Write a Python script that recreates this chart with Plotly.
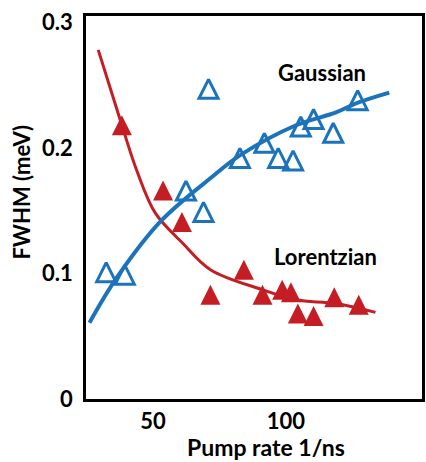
import plotly.graph_objects as go

# Measured data points (pump rate 1/ns, FWHM meV)
gauss_x = [32.4, 39.4, 62.4, 69.0, 70.9, 82.7, 91.9, 97.1, 102.7, 105.6, 110.4, 117.8, 127.0]
gauss_y = [0.101, 0.099, 0.166, 0.149, 0.247, 0.192, 0.204, 0.192, 0.190, 0.217, 0.223, 0.212, 0.238]

lor_x = [38.3, 53.8, 60.9, 71.6, 84.2, 91.2, 98.6, 101.9, 104.5, 110.4, 118.2, 127.4]
lor_y = [0.218, 0.166, 0.141, 0.083, 0.103, 0.083, 0.087, 0.085, 0.068, 0.066, 0.081, 0.075]

# Fit curves
gfit_x = [26.1, 36.5, 53.1, 72.3, 82.7, 103.8, 118.6, 127.1, 138.9]
gfit_y = [0.0607, 0.097, 0.142, 0.177, 0.194, 0.218, 0.228, 0.236, 0.244]

lfit_x = [29.4, 38.3, 43.9, 50.9, 61.2, 71.6, 91.2, 103.8, 118.6, 133.7]
lfit_y = [0.278, 0.218, 0.182, 0.148, 0.124, 0.103, 0.087, 0.079, 0.076, 0.069]

x_ticks = [50, 100]
y_ticks = [0, 0.1, 0.2, 0.3]
y_ticktext = ["\u00a0\u00a00", "0.1", "0.2", "0.3"]

BLUE = "#1B73BC"
RED = "#C41E24"
FONT = "Lato"

fig = go.Figure()
fig.add_trace(go.Scatter(x=lfit_x, y=lfit_y, mode="lines",
                         line=dict(color=RED, width=3, shape="spline", smoothing=1.0),
                         hoverinfo="skip", showlegend=False))
fig.add_trace(go.Scatter(x=gfit_x, y=gfit_y, mode="lines",
                         line=dict(color=BLUE, width=4, shape="spline", smoothing=1.0),
                         hoverinfo="skip", showlegend=False))
fig.add_trace(go.Scatter(x=lor_x, y=lor_y, mode="markers", name="Lorentzian",
                         marker=dict(symbol="arrow-down", size=20, color=RED,
                                     angle=180, standoff=10, line=dict(width=0)),
                         showlegend=False))
fig.add_trace(go.Scatter(x=gauss_x, y=gauss_y, mode="markers", name="Gaussian",
                         marker=dict(symbol="arrow-down-open", size=19, color=BLUE,
                                     angle=180, standoff=9.5, line=dict(width=3, color=BLUE)),
                         showlegend=False))

axis_font = dict(family=FONT, size=22, color="black", weight="bold")

fig.update_xaxes(range=[24.8, 151.2], tickvals=x_ticks, showgrid=False, zeroline=False,
                 showline=True, mirror=True, linecolor="black", linewidth=2.5,
                 ticks="", tickfont=axis_font, ticklabelstandoff=1)
fig.update_yaxes(range=[0, 0.305], tickvals=y_ticks, ticktext=y_ticktext, showgrid=False,
                 zeroline=False, showline=True, mirror=True, linecolor="black", linewidth=2.5,
                 ticks="", tickfont=axis_font, ticklabelstandoff=6)

ann_font = dict(family=FONT, size=22, color="black", weight="bold")
fig.update_layout(
    width=426, height=462,
    margin=dict(l=86, r=1, t=16, b=63),
    plot_bgcolor="white", paper_bgcolor="white",
    annotations=[
        dict(text="Gaussian", xref="paper", yref="paper", x=0.7035, y=0.8525,
             xanchor="center", yanchor="middle", showarrow=False, font=ann_font),
        dict(text="Lorentzian", xref="paper", yref="paper", x=0.714, y=0.372,
             xanchor="center", yanchor="middle", showarrow=False, font=ann_font),
        dict(text="Pump rate 1/ns", xref="paper", yref="paper", x=0.5354, y=-0.1266,
             xanchor="center", yanchor="middle", showarrow=False,
             font=dict(family=FONT, size=23, color="black", weight="bold")),
        dict(text="FWHM (meV)", xref="paper", yref="paper", x=-0.1917, y=0.5405,
             xanchor="center", yanchor="middle", textangle=-90, showarrow=False, font=ann_font),
    ],
)

fig.write_html("out.html", config={"displayModeBar": False},
               post_script="document.body.style.margin='0';document.body.style.overflow='hidden';")
